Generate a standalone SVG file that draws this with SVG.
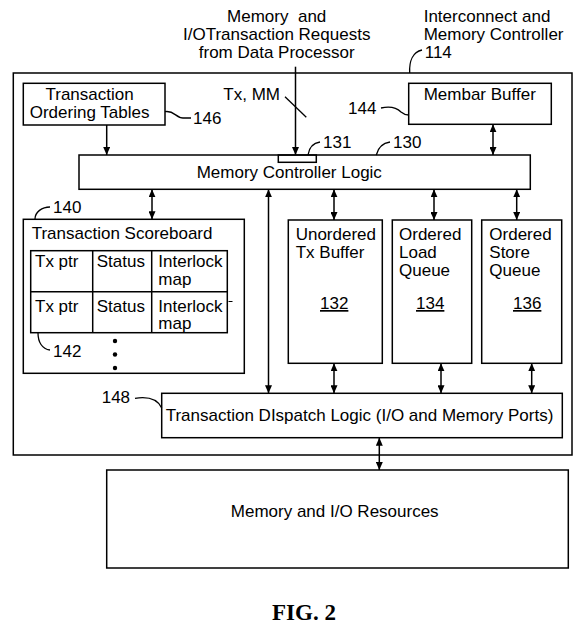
<svg xmlns="http://www.w3.org/2000/svg" width="578" height="627" viewBox="0 0 578 627">
<defs>
<style>
.box{fill:none;stroke:#000;stroke-width:1.5}
.t{font-family:"Liberation Sans",Arial,sans-serif;font-size:17px;fill:#000}
.ld{fill:none;stroke:#000;stroke-width:1.3}
.cn{fill:none;stroke:#000;stroke-width:1.5}
.fig{font-family:"Liberation Serif","Times New Roman",serif;font-size:23px;font-weight:bold;fill:#000}
</style>
<marker id="ah" viewBox="0 0 10 10" refX="10" refY="5" markerWidth="8" markerHeight="7" markerUnits="userSpaceOnUse" orient="auto-start-reverse" preserveAspectRatio="none">
<path d="M0,0 L10,5 L0,10 z" fill="#000"/>
</marker>
</defs>
<rect width="578" height="627" fill="#fff"/>

<g id="title-input">
<text class="t" text-anchor="middle" x="276.7" y="21.7" xml:space="preserve">Memory  and</text>
<text class="t" text-anchor="middle" x="276.7" y="39.5">I/OTransaction Requests</text>
<text class="t" text-anchor="middle" x="276.7" y="57.7">from Data Processor</text>
</g>

<g id="controller-114">
<rect class="box" x="13.3" y="73" width="558.7" height="382"/>
<text class="t" x="423.7" y="21.7">Interconnect and</text>
<text class="t" x="423.7" y="39.5">Memory Controller</text>
<text class="t" x="424.7" y="57.5">114</text>
<path class="ld" d="M409.7,73 C409,61 413,52 422,50"/>
</g>

<g id="ordering-tables-146">
<rect class="box" x="23.3" y="83.3" width="141.7" height="41.7"/>
<text class="t" text-anchor="middle" x="89.6" y="100">Transaction</text>
<text class="t" text-anchor="middle" x="89.6" y="118.3">Ordering Tables</text>
<text class="t" x="193" y="124">146</text>
<path class="ld" d="M165,111.7 C174,110 176,118 183,118 L191,118"/>
</g>

<g id="membar-buffer-144">
<rect class="box" x="408.7" y="83.3" width="142.6" height="41"/>
<text class="t" x="423.7" y="100">Membar Buffer</text>
<text class="t" x="348" y="114.3">144</text>
<path class="ld" d="M381,108 C390,106 397,108 401,112 C404,114.5 406,115 408.7,115"/>
</g>

<g id="txmm-label">
<text class="t" x="223.3" y="100">Tx, MM</text>
<line class="ld" x1="285" y1="96.7" x2="306.3" y2="117.3"/>
</g>

<g id="mcl-130">
<rect class="box" x="79" y="155" width="451.3" height="34.3"/>
<text class="t" x="196.7" y="178.3">Memory Controller Logic</text>
<text class="t" x="393" y="148">130</text>
<path class="ld" d="M376.3,155 C378,148 383,143 390,142"/>
</g>

<g id="port-131">
<rect class="box" x="278.3" y="155" width="38" height="7.3"/>
<text class="t" x="323" y="148.3">131</text>
<path class="ld" d="M308,155 C309,148 313,143 320,142"/>
</g>

<g id="scoreboard-140">
<rect class="box" x="23.3" y="219.3" width="221" height="154"/>
<text class="t" x="31.7" y="239">Transaction Scoreboard</text>
<text class="t" x="53" y="213">140</text>
<path class="ld" d="M35,219 C35,212 42,207 50,207"/>
</g>

<g id="scoreboard-table-142">
<rect class="box" x="30.7" y="250.7" width="196.6" height="82"/>
<line class="box" x1="30.7" y1="291.7" x2="227.3" y2="291.7"/>
<line class="box" x1="92.7" y1="250.7" x2="92.7" y2="332.7"/>
<line class="box" x1="151.7" y1="250.7" x2="151.7" y2="332.7"/>
<text class="t" x="35" y="266.7">Tx ptr</text>
<text class="t" x="96.7" y="266.7">Status</text>
<text class="t" x="158.3" y="266.7">Interlock</text>
<text class="t" x="158.3" y="285">map</text>
<text class="t" x="35" y="311.7">Tx ptr</text>
<text class="t" x="96.7" y="311.7">Status</text>
<text class="t" x="158.3" y="311.7">Interlock</text>
<text class="t" x="158.3" y="329">map</text>
<line x1="228.5" y1="301.5" x2="232.5" y2="301.5" stroke="#000" stroke-width="1"/>
<circle cx="115" cy="341" r="2.2" fill="#000"/>
<circle cx="115" cy="354.5" r="2.2" fill="#000"/>
<circle cx="115" cy="368" r="2.2" fill="#000"/>
<text class="t" x="53" y="356.5">142</text>
<path class="ld" d="M38,333 C38,342 42,349 50,350"/>
</g>

<g id="unordered-132">
<rect class="box" x="288.3" y="220" width="94" height="143.3"/>
<text class="t" x="295.7" y="240">Unordered</text>
<text class="t" x="295.7" y="257.7">Tx Buffer</text>
<text class="t" x="320" y="309" text-decoration="underline">132</text>
</g>

<g id="load-queue-134">
<rect class="box" x="392.3" y="220" width="79.4" height="143.3"/>
<text class="t" x="399" y="240">Ordered</text>
<text class="t" x="399" y="257.7">Load</text>
<text class="t" x="399" y="276">Queue</text>
<text class="t" x="416" y="309" text-decoration="underline">134</text>
</g>

<g id="store-queue-136">
<rect class="box" x="481.7" y="220" width="80" height="143.3"/>
<text class="t" x="489.3" y="240">Ordered</text>
<text class="t" x="489.3" y="257.7">Store</text>
<text class="t" x="489.3" y="276">Queue</text>
<text class="t" x="513" y="309" text-decoration="underline">136</text>
</g>

<g id="dispatch-148">
<rect class="box" x="161.7" y="393.3" width="400.6" height="44.4"/>
<text class="t" x="165.7" y="421">Transaction DIspatch Logic (I/O and Memory Ports)</text>
<text class="t" x="101.7" y="403.3">148</text>
<path class="ld" d="M135,398.3 C150,396 158,400 161.7,408"/>
</g>

<g id="resources">
<rect class="box" x="106.7" y="470" width="461.6" height="98"/>
<text class="t" text-anchor="middle" x="334.7" y="516.7">Memory and I/O Resources</text>
</g>

<g id="connectors">
<line class="cn" x1="295.5" y1="66.7" x2="295.5" y2="155" marker-end="url(#ah)"/>
<line class="cn" x1="106.7" y1="125" x2="106.7" y2="155" marker-end="url(#ah)"/>
<line class="cn" x1="493" y1="124.3" x2="493" y2="155" marker-start="url(#ah)" marker-end="url(#ah)"/>
<line class="cn" x1="152" y1="189.3" x2="152" y2="219.3" marker-start="url(#ah)" marker-end="url(#ah)"/>
<line class="cn" x1="268.5" y1="189.3" x2="268.5" y2="393.3" marker-start="url(#ah)" marker-end="url(#ah)"/>
<line class="cn" x1="334" y1="189.3" x2="334" y2="220" marker-start="url(#ah)" marker-end="url(#ah)"/>
<line class="cn" x1="434" y1="189.3" x2="434" y2="220" marker-start="url(#ah)" marker-end="url(#ah)"/>
<line class="cn" x1="516.7" y1="189.3" x2="516.7" y2="220" marker-start="url(#ah)" marker-end="url(#ah)"/>
<line class="cn" x1="334" y1="363.3" x2="334" y2="393.3" marker-start="url(#ah)" marker-end="url(#ah)"/>
<line class="cn" x1="441" y1="363.3" x2="441" y2="393.3" marker-start="url(#ah)" marker-end="url(#ah)"/>
<line class="cn" x1="531.7" y1="363.3" x2="531.7" y2="393.3" marker-start="url(#ah)" marker-end="url(#ah)"/>
<line class="cn" x1="379.3" y1="437.7" x2="379.3" y2="470" marker-start="url(#ah)" marker-end="url(#ah)"/>
</g>

<text class="fig" x="272" y="620">FIG. 2</text>
</svg>
